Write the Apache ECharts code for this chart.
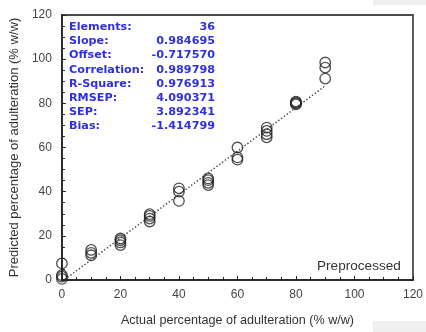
<!DOCTYPE html>
<html>
<head>
<meta charset="utf-8">
<script src="https://cdn.jsdelivr.net/npm/echarts@6/dist/echarts.min.js"></script>
<style>
  html, body { margin: 0; padding: 0; background: #fff; }
  #chart { width: 426px; height: 332px; }
</style>
</head>
<body>
<div id="chart"></div>
<script>
// Actual vs predicted adulteration (% w/w), validation set
const actual = [
  0, 0, 0, 0,
  10, 10, 10,
  20, 20, 20, 20,
  30, 30, 30, 30,
  40, 40, 40,
  50, 50, 50, 50,
  60, 60, 60,
  70, 70, 70, 70,
  80, 80, 80, 80,
  90, 90, 90
];
const predicted = [
  0.5, 1.5, 2.2, 7.5,
  11.2, 12.3, 13.6,
  15.8, 17.0, 18.0, 18.8,
  26.5, 27.8, 29.0, 29.8,
  35.8, 40.0, 41.5,
  43.0, 44.0, 45.2, 46.0,
  54.5, 55.5, 60.0,
  64.6, 66.0, 67.5, 69.0,
  79.5, 80.0, 80.4, 80.8,
  91.2, 96.2, 98.5
];

// Regression statistics shown in the summary box
const statNames = ['Elements:', 'Slope:', 'Offset:', 'Correlation:', 'R-Square:', 'RMSEP:', 'SEP:', 'Bias:'];
const statValues = ['36', '0.984695', '-0.717570', '0.989798', '0.976913', '4.090371', '3.892341', '-1.414799'];
const fitSlope = 0.984695;
const fitOffset = -0.717570;
const fitRange = [0, 90];

const xTicks = [0, 20, 40, 60, 80, 100, 120];
const yTicks = [0, 20, 40, 60, 80, 100, 120];

const FONT = '"Liberation Sans", Arial, sans-serif';
const STAT_FONT = 'bold 11.2px "DejaVu Sans", Verdana, sans-serif';
const BLUE = '#2f2fe0';

const points = actual.map((x, i) => [x, predicted[i]]);
const fitLine = fitRange.map(x => [x, fitSlope * x + fitOffset]);

const graphics = [];
statNames.forEach((name, i) => {
  const y = 27 + i * 14.2;
  graphics.push({
    type: 'text', x: 69, y: y, z: 10,
    style: { text: name, fill: BLUE, font: STAT_FONT, textVerticalAlign: 'middle' }
  });
  graphics.push({
    type: 'text', x: 215, y: y, z: 10,
    style: { text: statValues[i], fill: BLUE, font: STAT_FONT, textAlign: 'right', textVerticalAlign: 'middle' }
  });
});
graphics.push({
  type: 'text', x: 317, y: 266, z: 10,
  style: { text: 'Preprocessed', fill: '#333', font: '13.6px ' + FONT, textVerticalAlign: 'middle' }
});
// pale strips along the right edge
graphics.push({ type: 'rect', shape: { x: 373, y: 0, width: 53, height: 5 }, style: { fill: '#efefef' }, z: 0 });
graphics.push({ type: 'rect', shape: { x: 373, y: 321, width: 53, height: 11 }, style: { fill: '#efefef' }, z: 0 });

const chart = echarts.init(document.getElementById('chart'));
chart.setOption({
  animation: false,
  backgroundColor: '#fff',
  grid: { left: 59, right: 9, top: 15, bottom: 48, show: true, borderColor: '#4a4a4a', borderWidth: 1.8 },
  xAxis: {
    type: 'value', min: xTicks[0], max: xTicks[xTicks.length - 1], interval: 20,
    name: 'Actual percentage of adulteration (% w/w)',
    nameLocation: 'middle', nameGap: 34,
    nameTextStyle: { fontFamily: FONT, fontSize: 12.6, color: '#333' },
    axisLine: { lineStyle: { color: '#222', width: 1.6 } },
    axisTick: { inside: true, length: 4, lineStyle: { color: '#222' } },
    minorTick: { show: true, splitNumber: 4, length: 3, lineStyle: { color: '#222' } },
    axisLabel: { fontFamily: FONT, fontSize: 12, color: '#444', margin: 9 },
    splitLine: { show: false }
  },
  yAxis: {
    type: 'value', min: yTicks[0], max: yTicks[yTicks.length - 1], interval: 20,
    name: 'Predicted percentage of adulteration (% w/w)',
    nameLocation: 'middle', nameGap: 31,
    nameTextStyle: { fontFamily: FONT, fontSize: 13, color: '#333' },
    axisLine: { lineStyle: { color: '#222', width: 1.6 } },
    axisTick: { inside: true, length: 4, lineStyle: { color: '#222' } },
    minorTick: { show: true, splitNumber: 4, length: 3, lineStyle: { color: '#222' } },
    axisLabel: { fontFamily: FONT, fontSize: 12, color: '#444', margin: 10 },
    splitLine: { show: false }
  },
  graphic: graphics,
  series: [
    {
      type: 'line', data: fitLine, symbol: 'none', silent: true,
      lineStyle: { color: '#555', width: 1.5, type: [1.5, 2] }, z: 2
    },
    {
      type: 'scatter', data: points, symbol: 'circle', symbolSize: 10.5,
      itemStyle: { color: 'rgba(255,255,255,0)', borderColor: '#222', borderWidth: 1.3 }, z: 3
    }
  ]
});
</script>
</body>
</html>
